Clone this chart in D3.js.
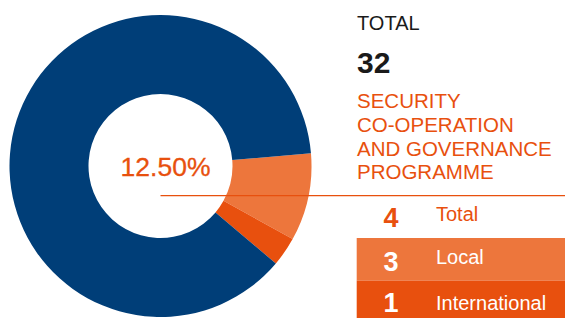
<!DOCTYPE html>
<html>
<head>
<meta charset="utf-8">
<script src="https://cdn.jsdelivr.net/npm/d3@7"></script>
<style>
  body { margin: 0; background: #fff; }
  svg { display: block; font-family: "Liberation Sans", Arial, sans-serif; }
</style>
</head>
<body>
<div id="chart"></div>
<script>
// data
const total = 32;
const categories = ["Local", "International"];
const values = [3, 1];
const titleLines = ["SECURITY", "CO-OPERATION", "AND GOVERNANCE", "PROGRAMME"];

const width = 565;
const height = 318;
const cx = 160.5, cy = 166;
const outerR = 151, innerR = 72;

const blue = "#003e78";
const orange = "#e8500e";
const lightOrange = "#ed763c";

const svg = d3.select("#chart").append("svg")
    .attr("width", width)
    .attr("height", height);

const progTotal = d3.sum(values);
const slices = categories.map(function(c, i) { return { key: c, value: values[i] }; });
slices.push({ key: "Other", value: total - progTotal });

const colors = d3.scaleOrdinal()
    .domain(["Local", "International", "Other"])
    .range([lightOrange, orange, blue]);

const start = 85.2 * Math.PI / 180;
const pie = d3.pie()
    .sort(null)
    .value(function(d) { return d.value; })
    .startAngle(start)
    .endAngle(start + 2 * Math.PI);

const arc = d3.arc().innerRadius(innerR).outerRadius(outerR);

const donut = svg.append("g")
    .attr("transform", "translate(" + cx + "," + cy + ")");

donut.selectAll("path")
    .data(pie(slices))
    .enter().append("path")
    .attr("d", arc)
    .attr("fill", function(d) { return colors(d.data.key); });

// percentage label in the hole
donut.append("text")
    .attr("x", 5)
    .attr("y", 9.5)
    .attr("text-anchor", "middle")
    .style("font-size", "26.5px")
    .style("fill", orange)
    .style("stroke", orange)
    .style("stroke-width", 0.3)
    .text(d3.format(".2%")(progTotal / total));

// right side header
const tx = 357;
svg.append("text")
    .attr("x", tx).attr("y", 29.5)
    .style("font-size", "20px")
    .style("fill", "#1a1a1a")
    .text("TOTAL");

svg.append("text")
    .attr("x", tx).attr("y", 73.3)
    .style("font-size", "30px")
    .style("font-weight", "bold")
    .style("fill", "#1a1a1a")
    .text(total);

svg.append("g").selectAll("text")
    .data(titleLines)
    .enter().append("text")
    .attr("x", tx)
    .attr("y", function(d, i) { return 108.3 + i * 23.6; })
    .style("font-size", "20.5px")
    .style("fill", orange)
    .text(function(d) { return d; });

// table rows
const rows = [{ key: "Total", value: progTotal }].concat(slices.slice(0, 2));
const rowY = d3.scaleBand()
    .domain(rows.map(function(d) { return d.key; }))
    .range([195.5, 323]);

const rowFill = { "Total": "#fff", "Local": lightOrange, "International": orange };
const numDy = [31.2, 32.7, 31.2];
const labelDy = [25.5, 26, 29.5];

const row = svg.append("g").selectAll("g")
    .data(rows)
    .enter().append("g")
    .attr("transform", function(d) { return "translate(0," + rowY(d.key) + ")"; });

row.append("rect")
    .attr("x", 356.7)
    .attr("width", width - 356.7)
    .attr("height", rowY.bandwidth())
    .attr("fill", function(d) { return rowFill[d.key]; });

row.append("text")
    .attr("x", 391)
    .attr("y", function(d, i) { return numDy[i]; })
    .attr("text-anchor", "middle")
    .style("font-size", "27px")
    .style("font-weight", "bold")
    .style("fill", function(d, i) { return i === 0 ? orange : "#fff"; })
    .text(function(d) { return d.value; });

row.append("text")
    .attr("x", 436)
    .attr("y", function(d, i) { return labelDy[i]; })
    .style("font-size", "20px")
    .style("fill", function(d, i) { return i === 0 ? orange : "#fff"; })
    .text(function(d) { return d.key; });

// leader line from donut centre
svg.append("line")
    .attr("x1", cx).attr("x2", width)
    .attr("y1", 195.7).attr("y2", 195.7)
    .attr("stroke", orange)
    .attr("stroke-width", 1.2);
</script>
</body>
</html>
